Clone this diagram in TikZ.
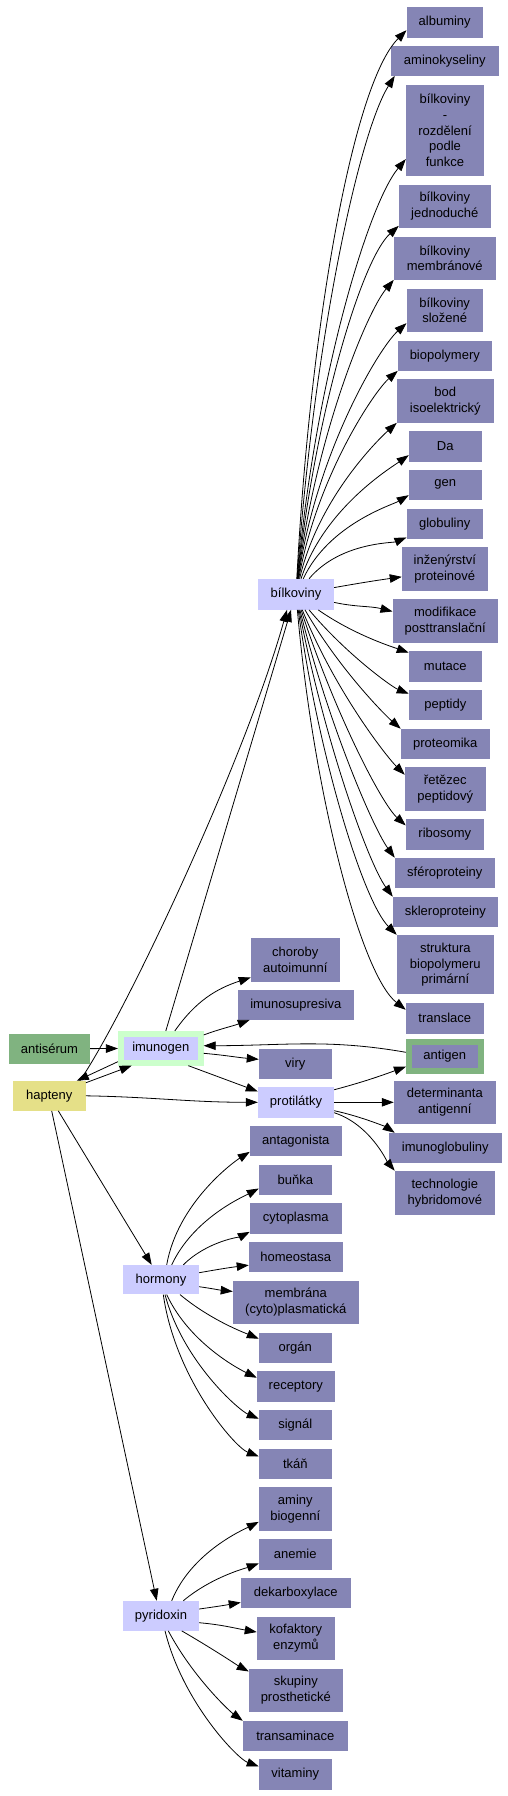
\documentclass[tikz,border=0pt]{standalone}
\usepackage{fontspec}
\setmainfont{Liberation Sans}
\usetikzlibrary{arrows.meta}
\definecolor{dark}{HTML}{8585B5}
\definecolor{light}{HTML}{CCCCFF}
\definecolor{grn}{HTML}{80B380}
\definecolor{lgrn}{HTML}{CCFFCC}
\definecolor{yel}{HTML}{E5E088}
\begin{document}
\begin{tikzpicture}[x=1pt,y=-1pt,
  nd/.style={rectangle, inner sep=0pt, align=center, font=\fontsize{13}{15.8}\selectfont},
  dk/.style={nd, fill=dark},
  lt/.style={nd, fill=light},
  sz/.style 2 args={minimum width=#1pt, minimum height=#2pt},
  e/.style={-{Triangle[length=12pt,width=8.5pt]}, line width=0.8pt},
  fan/.style={out looseness=1.15, in looseness=0.35}]
\useasboundingbox[fill=white] (0,0) rectangle (508,1796);
% right column
\node[dk,sz={76}{31}] (alb) at (444.7,22.2) {albuminy};
\node[dk,sz={107.7}{29.7}] (amino) at (444.8,60.8) {aminokyseliny};
\node[dk,sz={78}{90.7}] (rozd) at (445,130.3) {bílkoviny\\-\\rozdělení\\podle\\funkce};
\node[dk,sz={91.7}{42.7}] (jedn) at (444.8,206.3) {bílkoviny\\jednoduché};
\node[dk,sz={101.7}{42.7}] (memb) at (444.8,258.3) {bílkoviny\\membránové};
\node[dk,sz={76}{42.7}] (sloz) at (444.7,310.3) {bílkoviny\\složené};
\node[dk,sz={93.7}{29.7}] (biop) at (444.8,355.8) {biopolymery};
\node[dk,sz={96.7}{43.7}] (bod) at (445.3,400.8) {bod\\isoelektrický};
\node[dk,sz={72.7}{30.7}] (da) at (445.3,446.3) {Da};
\node[dk,sz={72.7}{29.7}] (gen) at (445.3,484.8) {gen};
\node[dk,sz={76}{29.7}] (glob) at (444.7,523.8) {globuliny};
\node[dk,sz={85.7}{43.7}] (inz) at (444.8,568.8) {inženýrství\\proteinové};
\node[dk,sz={105}{43.7}] (modif) at (445.2,620.8) {modifikace\\posttranslační};
\node[dk,sz={72.7}{30.7}] (mut) at (445.3,666.3) {mutace};
\node[dk,sz={72.7}{29.7}] (pept) at (445.3,704.8) {peptidy};
\node[dk,sz={88.7}{29.7}] (prot) at (445.3,743.8) {proteomika};
\node[dk,sz={80.7}{43.7}] (retez) at (445.3,788.8) {řetězec\\peptidový};
\node[dk,sz={77.7}{30.7}] (ribo) at (444.8,834.3) {ribosomy};
\node[dk,sz={99.7}{29.7}] (sfero) at (444.8,872.8) {sféroproteiny};
\node[dk,sz={104.7}{29.7}] (sklero) at (445.3,911.8) {skleroproteiny};
\node[dk,sz={96.7}{59.3}] (strukt) at (445.3,964.7) {struktura\\biopolymeru\\primární};
\node[dk,sz={77.7}{30.7}] (transl) at (444.8,1018.3) {translace};
\node[nd,fill=dark,draw=grn,line width=6pt,sz={71.7}{28.7}] (antig) at (444.8,1056.3) {antigen};
\node[dk,sz={101.7}{42.7}] (determ) at (444.8,1102.3) {determinanta\\antigenní};
\node[dk,sz={112.7}{29.7}] (imglob) at (445.3,1147.8) {imunoglobuliny};
\node[dk,sz={99.7}{43.7}] (techno) at (444.8,1192.8) {technologie\\hybridomové};
% middle column
\node[lt,sz={76}{30.7}] (bil) at (296,594.3) {bílkoviny};
\node[dk,sz={88.7}{43.7}] (chor) at (295.3,959.8) {choroby\\autoimunní};
\node[dk,sz={115.7}{29.7}] (imsup) at (295.8,1004.8) {imunosupresiva};
\node[dk,sz={72.7}{29.7}] (viry) at (295.3,1063.8) {viry};
\node[lt,sz={76}{30.7}] (protil) at (296,1102.3) {protilátky};
\node[dk,sz={91.7}{29.7}] (antag) at (295.8,1140.8) {antagonista};
\node[dk,sz={72.7}{29.7}] (bunka) at (295.3,1179.8) {buňka};
\node[dk,sz={91.7}{30.7}] (cyto) at (295.8,1218.3) {cytoplasma};
\node[dk,sz={93.7}{29.7}] (homeo) at (295.8,1256.8) {homeostasa};
\node[dk,sz={125.7}{42.7}] (membr) at (295.8,1302.3) {membrána\\(cyto)plasmatická};
\node[dk,sz={72.7}{29.7}] (organ) at (295.3,1347.8) {orgán};
\node[dk,sz={77.7}{30.7}] (recep) at (295.8,1386.3) {receptory};
\node[dk,sz={72.7}{29.7}] (signal) at (295.3,1424.8) {signál};
\node[dk,sz={72.7}{29.7}] (tkan) at (295.3,1463.8) {tkáň};
\node[dk,sz={72.7}{43.7}] (aminy) at (295.3,1508.8) {aminy\\biogenní};
\node[dk,sz={72.7}{30.7}] (anemie) at (295.3,1554.3) {anemie};
\node[dk,sz={109.7}{29.7}] (dekarb) at (295.8,1592.8) {dekarboxylace};
\node[dk,sz={77.7}{42.7}] (kofak) at (295.8,1638.3) {kofaktory\\enzymů};
\node[dk,sz={93.7}{42.7}] (skup) at (295.8,1690.3) {skupiny\\prosthetické};
\node[dk,sz={104.7}{29.7}] (transam) at (295.3,1735.8) {transaminace};
\node[dk,sz={72.7}{30.7}] (vitam) at (295.3,1774.3) {vitaminy};
% left column
\node[nd,fill=light,draw=lgrn,line width=6pt,sz={79.7}{28.7}] (imun) at (160.8,1048.3) {imunogen};
\node[lt,sz={76}{29.3}] (horm) at (161,1279.7) {hormony};
\node[lt,sz={76}{29.7}] (pyr) at (161,1615.8) {pyridoxin};
\node[nd,fill=grn,sz={81}{29.7}] (antis) at (49.5,1048.8) {antisérum};
\node[nd,fill=yel,sz={72.7}{29.7}] (hapt) at (49.3,1095.8) {hapteny};
% bilkoviny fan up
\draw[e,fan] (bil) to[out=87,in=225] ([yshift=7.7pt]alb.south west);
\draw[e,fan] (bil) to[out=86,in=238] ([xshift=4pt]amino.south west);
\draw[e,fan] (bil) to[out=85,in=230] ([yshift=16.7pt]rozd.south west);
\draw[e,fan] (bil) to[out=84,in=222] ([yshift=2pt]jedn.south west);
\draw[e,fan] (bil) to[out=83,in=230] (memb.south west);
\draw[e,fan] (bil) to[out=82,in=222] ([yshift=8.7pt]sloz.south west);
\draw[e,fan] (bil) to[out=80,in=221] (biop.south west);
\draw[e,fan] (bil) to[out=77,in=222] (bod.south west);
\draw[e,fan] (bil) to[out=72,in=215] ([yshift=6.7pt]da.south west);
\draw[e,fan] (bil) to[out=65,in=211] ([yshift=4.7pt]gen.south west);
\draw[e,fan] (bil) to[out=50,in=202] ([yshift=1.4pt]glob.south west);
\draw[e] (bil) to[out=10,in=188] ([yshift=14pt]inz.south west);
\draw[e] (bil) to[out=-12,in=166] ([yshift=-12.7pt]modif.north west);
% bilkoviny fan down
\draw[e,fan] (bil) to[out=-35,in=160] ([yshift=-2pt]mut.north west);
\draw[e,fan] (bil) to[out=-50,in=158] ([yshift=-4pt]pept.north west);
\draw[e,fan] (bil) to[out=-60,in=139] (prot.north west);
\draw[e,fan] (bil) to[out=-68,in=135] ([yshift=-8pt]retez.north west);
\draw[e,fan] (bil) to[out=-72,in=138] ([yshift=-6.7pt]ribo.north west);
\draw[e,fan] (bil) to[out=-76,in=126] (sfero.north west);
\draw[e,fan] (bil) to[out=-79,in=126] (sklero.north west);
\draw[e,fan] (bil) to[out=-82,in=135] (strukt.north west);
\draw[e,fan] (bil) to[out=-85,in=142] ([yshift=-7pt]transl.north west);
% left part
\draw[e] (antis) -- (imun);
\draw[e] ([yshift=-2pt]hapt.north east) -- ([xshift=13.7pt]imun.south west);
\draw[e] ([yshift=4pt]imun.south west) -- ([xshift=-9pt]hapt.north east);
\draw[e] ([xshift=-6pt]hapt.north east) .. controls (125,1015) and (245,760) .. ([xshift=-9pt]bil.south);
\draw[e] ([xshift=5pt]imun.north) -- ([xshift=-5pt]bil.south);
\draw[e] ([xshift=14pt]imun.north) to[out=55,in=198] ([yshift=4.4pt]chor.south west);
\draw[e] ([yshift=-4pt]imun.north east) to[out=20,in=200] ([xshift=12pt]imsup.south west);
\draw[e] ([yshift=-5pt]imun.east) to[out=-5,in=175] ([yshift=4.5pt]viry.west);
\draw[e] ([xshift=27.5pt]imun.south) -- ([yshift=-4.7pt]protil.north west);
\draw[e] (hapt.east) to[out=-1,in=180] (protil.west);
\draw[e] ([yshift=4pt]antig.west) to[out=170,in=0] ([yshift=2.6pt]imun.east);
\draw[e] ([xshift=9pt]hapt.south) -- ([xshift=-9.3pt]horm.north);
\draw[e] ([xshift=2.4pt]hapt.south) -- ([xshift=-4.3pt]pyr.north);
% protilatky
\draw[e] ([yshift=-3pt]protil.north east) to[out=15,in=200] ([yshift=7pt]antig.south west);
\draw[e] (protil.east) -- (determ.west);
\draw[e,fan] ([yshift=-8.4pt]protil.east) to[out=-12,in=146] ([xshift=6pt]imglob.north west);
\draw[e,fan] ([yshift=-10.4pt]protil.east) to[out=-18,in=130] (techno.north west);
% hormony
\draw[e,fan] ([xshift=5.7pt]horm.north) to[out=80,in=212] ([yshift=4pt]antag.south west);
\draw[e,fan] ([xshift=10.7pt]horm.north) to[out=65,in=208] ([yshift=6.4pt]bunka.south west);
\draw[e,fan] ([xshift=22.3pt]horm.north) to[out=45,in=207] ([yshift=2pt]cyto.south west);
\draw[e] ([yshift=7pt]horm.east) to[out=10,in=187] ([yshift=6.7pt]homeo.south west);
\draw[e] ([yshift=-7pt]horm.east) to[out=-8,in=174] ([yshift=-10.7pt]membr.north west);
\draw[e,fan] ([xshift=19pt]horm.south) to[out=-40,in=157] ([yshift=-6pt]organ.north west);
\draw[e,fan] ([xshift=5.7pt]horm.south) to[out=-65,in=154] ([yshift=-7pt]recep.north west);
\draw[e,fan] ([xshift=4pt]horm.south) to[out=-75,in=157] ([yshift=-9pt]signal.north west);
\draw[e,fan] ([xshift=2.3pt]horm.south) to[out=-82,in=159] ([yshift=-7.7pt]tkan.north west);
% pyridoxin
\draw[e,fan] ([xshift=10.7pt]pyr.north) to[out=68,in=207] ([yshift=9pt]aminy.south west);
\draw[e,fan] ([xshift=22.3pt]pyr.north) to[out=40,in=200] ([yshift=6.4pt]anemie.south west);
\draw[e] ([yshift=6.8pt]pyr.east) to[out=8,in=190] ([yshift=5.4pt]dekarb.south west);
\draw[e] ([yshift=-6.9pt]pyr.east) to[out=-5,in=170] ([yshift=-15.3pt]kofak.north west);
\draw[e,fan] ([xshift=20.7pt]pyr.south) to[out=-30,in=152] ([yshift=-2.7pt]skup.north west);
\draw[e,fan] ([xshift=7.3pt]pyr.south) to[out=-62,in=144] (transam.north west);
\draw[e,fan] ([xshift=4pt]pyr.south) to[out=-76,in=160] ([yshift=-7.7pt]vitam.north west);
\end{tikzpicture}
\end{document}
